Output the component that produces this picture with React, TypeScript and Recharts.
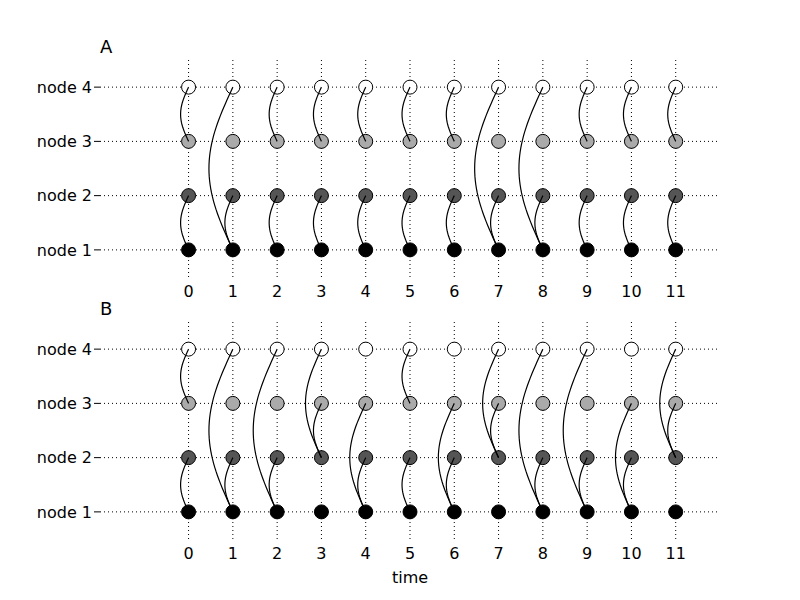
import React from 'react';
import { ScatterChart, Scatter, XAxis, YAxis, CartesianGrid } from 'recharts';

const times = [0, 1, 2, 3, 4, 5, 6, 7, 8, 9, 10, 11];
const nodeLevels = [1, 2, 3, 4];
const nodeLabels = ['node 1', 'node 2', 'node 3', 'node 4'];
const nodeFills = ['#000000', '#555555', '#aaaaaa', '#ffffff'];
// [time, nodeA, nodeB]
const edgesA: [number, number, number][] = [
  [0, 3, 4], [0, 1, 2], [1, 1, 4], [1, 1, 2], [2, 3, 4], [2, 1, 2],
  [3, 3, 4], [3, 1, 2], [4, 3, 4], [4, 1, 2], [5, 3, 4], [5, 1, 2],
  [6, 3, 4], [6, 1, 2], [7, 1, 4], [7, 1, 2], [8, 1, 4], [8, 1, 2],
  [9, 3, 4], [9, 1, 2], [10, 3, 4], [10, 1, 2], [11, 3, 4], [11, 1, 2],
];
const edgesB: [number, number, number][] = [
  [0, 3, 4], [0, 1, 2], [1, 1, 4], [1, 1, 2], [2, 1, 4], [2, 1, 2],
  [3, 2, 4], [3, 2, 3], [4, 1, 3], [4, 1, 2], [5, 3, 4], [5, 1, 2],
  [6, 1, 3], [6, 1, 2], [7, 2, 4], [7, 2, 3], [8, 1, 4], [8, 1, 2],
  [9, 1, 4], [9, 1, 2], [10, 1, 3], [10, 1, 2], [11, 2, 4], [11, 2, 3],
];

const arcPoints = (t: number, a: number, b: number) => {
  const pts = [] as { x: number; y: number }[];
  const span = Math.abs(b - a);
  const n = 40;
  for (let i = 0; i <= n; i++) {
    const s = i / n;
    pts.push({ x: t - 0.18 * span * Math.sin(Math.PI * s), y: b + (a - b) * s });
  }
  return pts;
};

const font = 'DejaVu Sans, sans-serif';
const noShape = () => <g />;

function Panel({ edges, title, top, showTime }: { edges: [number, number, number][]; title: string; top: number; showTime: boolean }) {
  return (
    <div style={{ position: 'relative', width: 800, height: 300 }}>
      <div style={{ position: 'absolute', left: 100, top: top - 24, fontFamily: font, fontSize: 18 }}>{title}</div>
      <ScatterChart width={800} height={300} style={{ overflow: 'visible' }}
        margin={{ top, right: 80, bottom: 300 - top - 217 - 23, left: 0 }}>
        <CartesianGrid stroke="#000" strokeDasharray="1 3" strokeWidth={1}
          horizontalValues={nodeLevels} verticalValues={times} />
        <XAxis type="number" dataKey="x" domain={[-2, 12]} ticks={times} axisLine={false} tickLine={false}
          tickMargin={3} height={23} tick={{ fill: '#000', fontSize: 16, fontFamily: font }} interval={0}
          allowDataOverflow />
        <YAxis type="number" dataKey="y" domain={[0.5, 4.5]} ticks={nodeLevels} width={100}
          tickFormatter={(v: number) => nodeLabels[v - 1]} axisLine={false} tickLine={{ stroke: '#000' }}
          tickSize={6} tickMargin={2} tick={{ fill: '#000', fontSize: 16, fontFamily: font }} interval={0} />
        {nodeLevels.map((lv, k) => (
          <Scatter key={'n' + k} data={times.map((t) => ({ x: t, y: lv }))} fill={nodeFills[k]}
            shape={(p: any) => <circle cx={p.cx} cy={p.cy} r={7} fill={nodeFills[k]} stroke="#000" strokeWidth={1} />}
            isAnimationActive={false} />
        ))}
        {edges.map((e, i) => (
          <Scatter key={'f' + i} data={arcPoints(e[0], e[1], e[2])} line={{ stroke: '#000', strokeWidth: 1.2 }}
            lineType="joint" shape={noShape} isAnimationActive={false} />
        ))}
      </ScatterChart>
      {showTime && (
        <div style={{ position: 'absolute', left: 0, width: 820, textAlign: 'center', top: 268, fontFamily: font, fontSize: 16 }}>time</div>
      )}
    </div>
  );
}

export default function App() {
  return (
    <div style={{ position: 'absolute', left: 0, top: 0, width: 800, height: 600, background: '#fff' }}>
      <Panel edges={edgesA} title="A" top={60} showTime={false} />
      <Panel edges={edgesB} title="B" top={22} showTime={true} />
    </div>
  );
}
